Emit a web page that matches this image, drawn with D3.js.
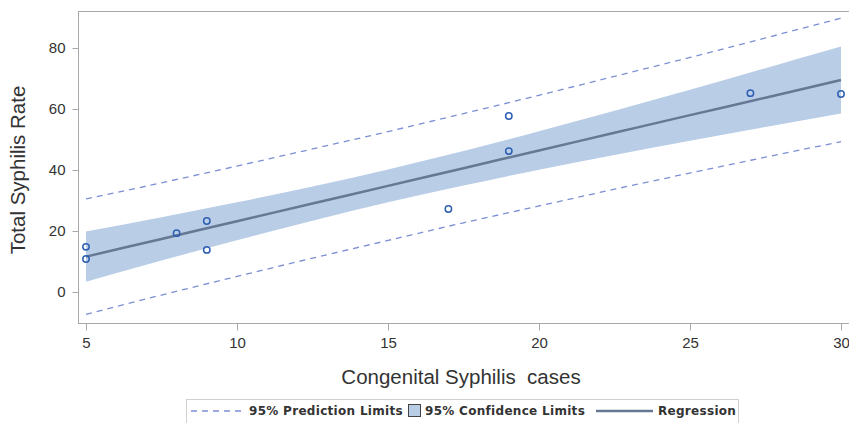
<!DOCTYPE html>
<html>
<head>
<meta charset="utf-8">
<script src="https://cdn.jsdelivr.net/npm/d3@7"></script>
<style>
body { margin: 0; background: #fff; }
svg { display: block; font-family: "Liberation Sans", Arial, sans-serif; }
</style>
</head>
<body>
<script>
// observed points
var casesX = [5, 5, 8, 9, 9, 17, 19, 19, 27, 30];
var rateY = [14.8, 10.8, 19.3, 23.3, 13.8, 27.2, 57.7, 46.2, 65.2, 64.9];

// fit curves read along the x axis
var fitX = [5, 7.5, 10, 12.5, 15, 17.5, 20, 22.5, 25, 27.5, 30];
var regY = [11.6, 17.4, 23.2, 29.0, 34.8, 40.6, 46.4, 52.2, 58.0, 63.7, 69.5];
var clLow = [3.4, 10.3, 17.0, 23.4, 29.4, 34.9, 40.1, 44.9, 49.6, 54.1, 58.5];
var clHigh = [19.8, 24.5, 29.4, 34.6, 40.2, 46.2, 52.7, 59.4, 66.3, 73.4, 80.5];
var plLow = [-7.3, -1.0, 5.1, 11.1, 16.9, 22.7, 28.2, 33.7, 39.0, 44.2, 49.3];
var plHigh = [30.5, 35.8, 41.3, 46.9, 52.6, 58.5, 64.5, 70.7, 76.9, 83.3, 89.8];

var xTicks = [5, 10, 15, 20, 25, 30];
var yTicks = [0, 20, 40, 60, 80];

var W = 849, H = 423;
var svg = d3.select("body").append("svg").attr("width", W).attr("height", H);

var x = d3.scaleLinear().domain([5, 30]).range([86, 841]);
var y = d3.scaleLinear().domain([0, 80]).range([292, 48]);

var frameL = 78, frameT = 11, frameB = 323, frameR = 872;

// confidence band
var band = d3.area()
  .x(function(d, i) { return x(fitX[i]); })
  .y0(function(d, i) { return y(clLow[i]); })
  .y1(function(d, i) { return y(clHigh[i]); })
  .curve(d3.curveMonotoneX);
svg.append("path").datum(fitX).attr("d", band).attr("fill", "#b9cde6");

// prediction limits
function lineOf(arr) {
  return d3.line()
    .x(function(d, i) { return x(fitX[i]); })
    .y(function(d, i) { return y(arr[i]); })
    .curve(d3.curveMonotoneX)(fitX);
}
[plLow, plHigh].forEach(function(arr) {
  svg.append("path").attr("d", lineOf(arr))
    .attr("fill", "none").attr("stroke", "#7d8fd4")
    .attr("stroke-width", 1.3).attr("stroke-dasharray", "6,5");
});

// regression line
svg.append("path").attr("d", lineOf(regY))
  .attr("fill", "none").attr("stroke", "#667894").attr("stroke-width", 2.5);

// points
svg.selectAll("circle.pt").data(casesX).enter().append("circle")
  .attr("class", "pt")
  .attr("cx", function(d) { return x(d); })
  .attr("cy", function(d, i) { return y(rateY[i]); })
  .attr("r", 3.2)
  .attr("fill", "none").attr("stroke", "#2f5fb3").attr("stroke-width", 1.5);

// frame
svg.append("rect").attr("x", frameL + 0.5).attr("y", frameT + 0.5)
  .attr("width", frameR - frameL).attr("height", frameB - frameT)
  .attr("fill", "none").attr("stroke", "#a8a8a8").attr("stroke-width", 1);

// axes
var yAxis = svg.append("g").attr("transform", "translate(" + (frameL + 0.5) + ",0)")
  .call(d3.axisLeft(y).tickValues(yTicks).tickSize(6).tickPadding(7));
var xAxis = svg.append("g").attr("transform", "translate(0," + (frameB + 0.5) + ")")
  .call(d3.axisBottom(x).tickValues(xTicks).tickSize(7).tickPadding(7));
[yAxis, xAxis].forEach(function(g) {
  g.select(".domain").remove();
  g.selectAll(".tick line").attr("stroke", "#a8a8a8");
  g.selectAll(".tick text").attr("fill", "#333").style("font-size", "15px")
    .style("font-family", "'Liberation Sans', Arial, sans-serif");
});

// axis titles
svg.append("text").attr("transform", "translate(25,170) rotate(-90)")
  .attr("text-anchor", "middle").attr("fill", "#333").style("font-size", "20.5px")
  .text("Total Syphilis Rate");
svg.append("text").attr("x", 461).attr("y", 384)
  .attr("text-anchor", "middle").attr("fill", "#333").style("font-size", "20.5px")
  .style("white-space", "pre").attr("xml:space", "preserve")
  .text("Congenital Syphilis  cases");

// legend
var lg = svg.append("g").style("font-family", "'DejaVu Sans', Verdana, sans-serif")
  .style("font-size", "12px").style("font-weight", "bold").style("letter-spacing", "0.3px");
lg.append("rect").attr("x", 186.5).attr("y", 399.5).attr("width", 552).attr("height", 30)
  .attr("fill", "#fff").attr("stroke", "#d0d0d0");
var ly = 411;
lg.append("line").attr("x1", 191).attr("x2", 246).attr("y1", ly).attr("y2", ly)
  .attr("stroke", "#7d8fd4").attr("stroke-width", 1.3).attr("stroke-dasharray", "6,5");
lg.append("text").attr("x", 249).attr("y", ly + 4).attr("fill", "#333").text("95% Prediction Limits");
lg.append("rect").attr("x", 408.5).attr("y", ly - 6.5).attr("width", 12).attr("height", 12)
  .attr("fill", "#b9cde6").attr("stroke", "#444");
lg.append("text").attr("x", 425).attr("y", ly + 4).attr("fill", "#333").text("95% Confidence Limits");
lg.append("line").attr("x1", 596).attr("x2", 653).attr("y1", ly).attr("y2", ly)
  .attr("stroke", "#667894").attr("stroke-width", 2.5);
lg.append("text").attr("x", 658).attr("y", ly + 4).attr("fill", "#333").text("Regression");
</script>
</body>
</html>
